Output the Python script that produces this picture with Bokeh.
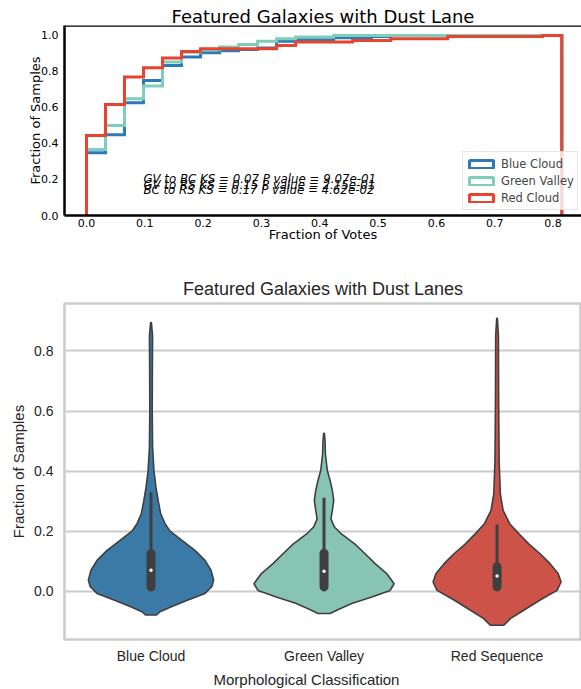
from bokeh.plotting import figure
from bokeh.models import (ColumnDataSource, Range1d, FixedTicker, Legend, LegendItem,
                          Span, NumeralTickFormatter, Title)
from bokeh.layouts import column
from bokeh.embed import file_html
from bokeh.resources import INLINE

# ---------------- top panel data: cumulative step histograms ----------------
bin_edges = [0.0, 0.0326, 0.0652, 0.0978, 0.1304, 0.163, 0.1956, 0.2282, 0.2608,
             0.2934, 0.326, 0.3586, 0.3912, 0.4238, 0.4564, 0.489, 0.5216, 0.5542,
             0.5868, 0.6194, 0.652, 0.6846, 0.7172, 0.7498, 0.7824, 0.815]
cdf_blue = [0.348, 0.448, 0.626, 0.750, 0.833, 0.880, 0.904, 0.915, 0.922, 0.930,
            0.968, 0.976, 0.976, 0.987, 0.987, 0.994, 1.0, 1.0, 1.0, 1.0,
            1.0, 1.0, 1.0, 1.0, 1.0]
cdf_green = [0.367, 0.500, 0.648, 0.719, 0.852, 0.907, 0.920, 0.935, 0.950, 0.968,
             0.981, 0.991, 0.991, 1.0, 1.0, 1.0, 1.0, 1.0, 1.0, 1.0,
             1.0, 1.0, 1.0, 1.0, 1.0]
cdf_red = [0.444, 0.617, 0.769, 0.820, 0.874, 0.911, 0.926, 0.926, 0.926, 0.926,
           0.944, 0.963, 0.963, 0.963, 0.972, 0.972, 0.981, 0.981, 0.981, 0.994,
           0.994, 0.994, 0.994, 0.994, 1.0]
series_names = ["Blue Cloud", "Green Valley", "Red Cloud"]
series_colors = ["#2c7bb6", "#7fcdbb", "#e8432f"]
ks_lines = ["GV to BC KS = 0.07 P value = 9.07e-01",
            "GV to RS KS = 0.15 P value = 2.15e-01",
            "BC to RS KS = 0.17 P value = 4.62e-02"]
ks_y = [0.200, 0.172, 0.144]
top_xticks = [0.0, 0.1, 0.2, 0.3, 0.4, 0.5, 0.6, 0.7, 0.8]
top_yticks = [0.0, 0.2, 0.4, 0.6, 0.8, 1.0]

# ---------------- bottom panel data: violins ----------------
categories = ["Blue Cloud", "Green Valley", "Red Sequence"]
violin_colors = ["#3b7aa6", "#88c4b4", "#cd5349"]
blue_y = [-0.079, -0.068, -0.051, -0.029, -0.007, 0.015, 0.037, 0.070, 0.103, 0.136,
          0.170, 0.200, 0.225, 0.258, 0.300, 0.345, 0.400, 0.480, 0.600, 0.750, 0.850, 0.895]
blue_w = [0.032, 0.052, 0.121, 0.214, 0.312, 0.351, 0.362, 0.347, 0.312, 0.254,
          0.177, 0.110, 0.081, 0.056, 0.042, 0.029, 0.017, 0.009, 0.007, 0.008, 0.009, 0.002]
green_y = [-0.074, -0.063, -0.041, -0.019, 0.003, 0.025, 0.059, 0.092, 0.125, 0.157,
           0.190, 0.214, 0.241, 0.269, 0.302, 0.336, 0.369, 0.402, 0.457, 0.500, 0.526]
green_w = [0.035, 0.073, 0.160, 0.276, 0.382, 0.405, 0.362, 0.295, 0.237, 0.179,
           0.102, 0.060, 0.040, 0.048, 0.056, 0.048, 0.035, 0.019, 0.008, 0.006, 0.002]
red_y = [-0.113, -0.091, -0.063, -0.029, 0.003, 0.031, 0.059, 0.092, 0.125, 0.158,
         0.192, 0.225, 0.269, 0.324, 0.435, 0.656, 0.850, 0.909]
red_w = [0.039, 0.077, 0.154, 0.249, 0.347, 0.370, 0.353, 0.306, 0.249, 0.183,
         0.125, 0.073, 0.035, 0.019, 0.012, 0.009, 0.008, 0.002]
q1 = [0.0, 0.0, 0.0]
q3 = [0.14, 0.142, 0.097]
medians = [0.070, 0.067, 0.051]
whisk_lo = [0.0, 0.0, 0.0]
whisk_hi = [0.33, 0.311, 0.222]
bot_yticks = [0.0, 0.2, 0.4, 0.6, 0.8]

# ======================= TOP FIGURE =======================
TF = "DejaVu Sans"
top = figure(width=581, height=248, output_backend="svg", toolbar_location=None,
             x_range=Range1d(-0.0377, 0.8488), y_range=Range1d(0, 1.055),
             min_border_left=64, min_border_right=0, min_border_top=25,
             min_border_bottom=33)
top.outline_line_color = None
top.grid.visible = False
top.background_fill_color = "white"
top.border_fill_color = "white"

top.title.text = "Featured Galaxies with Dust Lane"
top.title.text_font = TF
top.title.text_font_size = "18px"
top.title.text_font_style = "normal"
top.title.text_color = "black"
top.title.align = "center"
top.title.offset = 2
top.title.standoff = -2

def step_path(edges, vals):
    xs, ys = [edges[0]], [0.0]
    for i, v in enumerate(vals):
        xs += [edges[i], edges[i + 1]]
        ys += [v, v]
    xs.append(edges[-1]); ys.append(0.0)
    return xs, ys

for vals, c in zip([cdf_blue, cdf_green, cdf_red], series_colors):
    xs, ys = step_path(bin_edges, vals)
    top.line(xs, ys, line_color=c, line_width=3, line_join="miter")

items = []
for name, c in zip(series_names, series_colors):
    r = top.rect(x="x", y="y", width=1, height=1,
                 source=ColumnDataSource(data=dict(x=[float("nan")], y=[float("nan")])),
                 fill_color=None, line_color=c, line_width=3)
    items.append(LegendItem(label=name, renderers=[r]))
leg = Legend(items=items, location=(398, 5), margin=0, padding=3, spacing=0,
             glyph_width=30, glyph_height=10, label_height=17, label_standoff=5,
             label_text_font=TF, label_text_font_size="11.5px",
             border_line_color="#cccccc", border_line_width=1,
             background_fill_alpha=0.8)
top.add_layout(leg, "center")

ks_src = ColumnDataSource(data=dict(x=[0.0976] * len(ks_lines), y=ks_y, t=ks_lines))
top.text(x="x", y="y", text="t", source=ks_src, text_font_size="11.8px",
         text_font_style="italic", text_color="black", text_baseline="alphabetic",
         text_font={"value": TF})

top.add_layout(Span(location=1.055, dimension="width", line_color="black", line_width=2.5))

for ax in [top.xaxis[0], top.yaxis[0]]:
    ax.axis_line_color = "black"
    ax.axis_line_width = 2.5
    ax.major_tick_out = 0
    ax.major_tick_in = 0
    ax.minor_tick_out = 0
    ax.minor_tick_in = 0
    ax.major_label_text_font = TF
    ax.major_label_text_font_size = "11px"
    ax.major_label_text_color = "black"
    ax.axis_label_text_font = TF
    ax.axis_label_text_font_size = "13px"
    ax.axis_label_text_font_style = "normal"
    ax.axis_label_text_color = "black"
    ax.formatter = NumeralTickFormatter(format="0.0")
top.xaxis[0].ticker = FixedTicker(ticks=top_xticks)
top.yaxis[0].ticker = FixedTicker(ticks=top_yticks)
top.xaxis[0].axis_label = "Fraction of Votes"
top.yaxis[0].axis_label = "Fraction of Samples"
top.xaxis[0].major_label_standoff = 3
top.xaxis[0].axis_label_standoff = -3
top.yaxis[0].major_label_standoff = 6
top.yaxis[0].axis_label_standoff = -5

# ======================= BOTTOM FIGURE =======================
BF = "Liberation Sans"
TXT = "#262626"
bot = figure(width=581, height=441, output_backend="svg", toolbar_location=None,
             x_range=Range1d(-0.5, 2.488), y_range=Range1d(-0.1605, 0.958),
             min_border_left=64, min_border_right=0, min_border_top=55,
             min_border_bottom=50)
bot.background_fill_color = "white"
bot.border_fill_color = "white"
bot.outline_line_color = "#cccccc"
bot.outline_line_width = 2.5
bot.xgrid.visible = False
bot.ygrid.grid_line_color = "#cccccc"
bot.ygrid.grid_line_width = 1.8

bot.title.text = "Featured Galaxies with Dust Lanes"
bot.title.text_font = BF
bot.title.text_font_size = "18px"
bot.title.text_font_style = "normal"
bot.title.text_color = TXT
bot.title.align = "center"
bot.title.offset = 1.5
bot.title.standoff = 10

px_per_unit = 336 / (0.958 + 0.1605)
cap = 4.5 / px_per_unit
for i, (vy, vw, col) in enumerate(zip([blue_y, green_y, red_y],
                                      [blue_w, green_w, red_w], violin_colors)):
    xs = [i + w for w in vw] + [i - w for w in reversed(vw)]
    ys = list(vy) + list(reversed(vy))
    bot.patch(xs, ys, fill_color=col, line_color="#3f3f3f", line_width=1.6)
    bot.segment(x0=[i], y0=[whisk_lo[i]], x1=[i], y1=[whisk_hi[i]],
                line_color="#3f3f3f", line_width=3)
    bot.segment(x0=[i], y0=[q1[i] + cap], x1=[i], y1=[q3[i] - cap],
                line_color="#3f3f3f", line_width=9, line_cap="round")
    bot.scatter(x=[i], y=[medians[i]], size=3.5, fill_color="white", line_color=None)

for ax in [bot.xaxis[0], bot.yaxis[0]]:
    ax.axis_line_color = None
    ax.major_tick_out = 0
    ax.major_tick_in = 0
    ax.minor_tick_out = 0
    ax.minor_tick_in = 0
    ax.major_label_text_font = BF
    ax.major_label_text_font_size = "14px"
    ax.major_label_text_color = TXT
    ax.axis_label_text_font = BF
    ax.axis_label_text_font_size = "15px"
    ax.axis_label_text_font_style = "normal"
    ax.axis_label_text_color = TXT
bot.yaxis[0].ticker = FixedTicker(ticks=bot_yticks)
bot.ygrid.ticker = FixedTicker(ticks=bot_yticks)
bot.yaxis[0].formatter = NumeralTickFormatter(format="0.0")
bot.yaxis[0].major_label_standoff = 11
bot.yaxis[0].axis_label = "Fraction of Samples"
bot.yaxis[0].axis_label_standoff = 4
bot.xaxis[0].ticker = FixedTicker(ticks=[0, 1, 2])
bot.xaxis[0].major_label_overrides = {i: c for i, c in enumerate(categories)}
bot.xaxis[0].major_label_standoff = 8

xlab = Title(text="Morphological Classification", align="left", offset=149,
             text_font=BF, text_font_size="15px", text_font_style="normal",
             text_color=TXT, standoff=4)
bot.add_layout(xlab, "below")

layout = column(top, bot, spacing=0)
open("out.html", "w").write(file_html(layout, INLINE))
